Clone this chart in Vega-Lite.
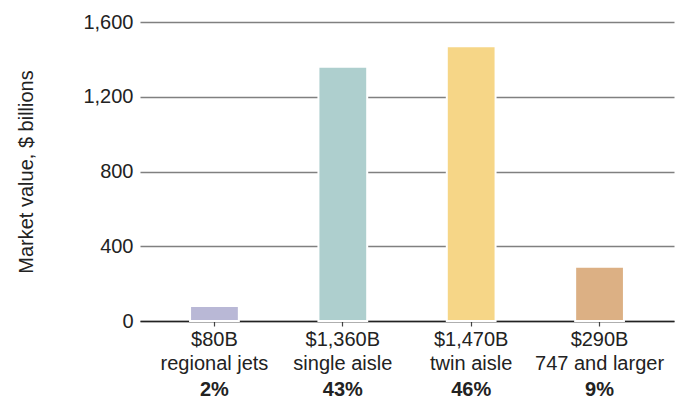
{
  "$schema": "https://vega.github.io/schema/vega-lite/v6.json",
  "autosize": {"type": "none"},
  "padding": {"left": 140, "top": 22, "right": 4, "bottom": 79},
  "width": 534,
  "height": 299,
  "background": "white",
  "config": {
    "view": {"stroke": null},
    "font": "Liberation Sans",
    "axis": {"labelFont": "Liberation Sans", "titleFont": "Liberation Sans"}
  },
  "data": {
    "values": [
      {"cat": "$80B|regional jets", "value": 80, "pct": "2%", "group": "regional"},
      {"cat": "$1,360B|single aisle", "value": 1360, "pct": "43%", "group": "single"},
      {"cat": "$1,470B|twin aisle", "value": 1470, "pct": "46%", "group": "twin"},
      {"cat": "$290B|747 and larger", "value": 290, "pct": "9%", "group": "large"}
    ]
  },
  "layer": [
    {
      "mark": {"type": "bar", "stroke": "white", "strokeWidth": 2},
      "encoding": {
        "x": {
          "field": "cat",
          "type": "nominal",
          "sort": null,
          "scale": {"paddingInner": 0.62, "paddingOuter": 0.39},
          "axis": {
            "title": null,
            "labelAngle": 0,
            "labelExpr": "split(datum.value, '|')",
            "labelFontSize": 20,
            "labelColor": "#222222",
            "labelLineHeight": 24,
            "labelPadding": 3,
            "tickSize": 5,
            "tickColor": "#444444",
            "tickWidth": 1.2,
            "domainColor": "#222222",
            "domainWidth": 1.6,
            "grid": false
          }
        },
        "y": {
          "field": "value",
          "type": "quantitative",
          "scale": {"domain": [0, 1600]},
          "axis": {
            "title": "Market value, $ billions",
            "titleFontSize": 20,
            "titleFontWeight": "normal",
            "titleColor": "#222222",
            "titlePadding": 46,
            "values": [0, 400, 800, 1200, 1600],
            "format": ",d",
            "labelFontSize": 20,
            "labelColor": "#222222",
            "labelPadding": 7,
            "tickSize": 0,
            "domain": false,
            "grid": true,
            "gridColor": "#808080",
            "gridWidth": 1.4
          }
        },
        "color": {
          "field": "group",
          "type": "nominal",
          "scale": {
            "domain": ["regional", "single", "twin", "large"],
            "range": ["#b9b8d6", "#aecfce", "#f6d687", "#dcb084"]
          },
          "legend": null
        }
      }
    },
    {
      "mark": {"type": "text", "fontSize": 20, "fontWeight": "bold", "color": "#222222", "baseline": "alphabetic", "dy": 75},
      "encoding": {
        "x": {"field": "cat", "type": "nominal", "sort": null},
        "y": {"datum": 0, "type": "quantitative"},
        "text": {"field": "pct"}
      }
    }
  ]
}
